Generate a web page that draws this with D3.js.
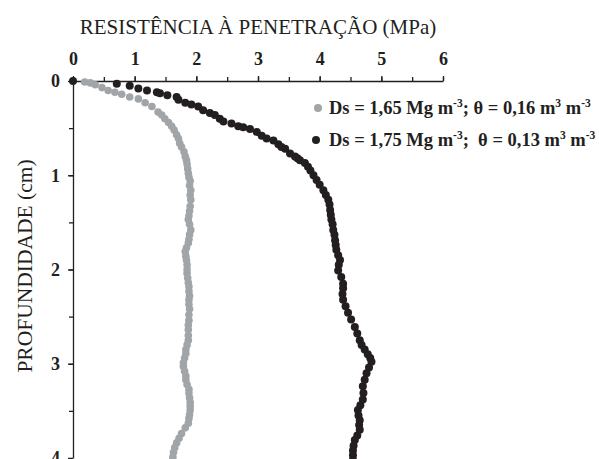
<!DOCTYPE html>
<html><head><meta charset="utf-8">
<script src="https://cdn.jsdelivr.net/npm/d3@7"></script>
<style>
html,body{margin:0;padding:0;background:#fff;}
svg{display:block;font-family:"Liberation Serif","Times New Roman",serif;}
</style></head>
<body><svg id="c" width="599" height="459"></svg>
<script>
// ---- data (resistance MPa, depth cm) ----
const xTicks = [0,1,2,3,4,5,6];
const yTicks = [0,1,2,3,4];
const grayX = [0.19,0.28,0.36,0.47,0.57,0.68,0.79,0.92,1.06,1.17,1.28,1.38,1.44,1.49,1.55,1.60,1.64,1.68,1.71,1.73,1.76,1.80,1.82,1.84,1.85,1.86,1.87,1.88,1.90,1.89,1.91,1.90,1.91,1.90,1.89,1.88,1.87,1.89,1.91,1.89,1.88,1.87,1.84,1.82,1.83,1.84,1.85,1.85,1.85,1.86,1.87,1.88,1.88,1.89,1.88,1.88,1.89,1.88,1.88,1.87,1.87,1.87,1.87,1.85,1.83,1.83,1.81,1.79,1.79,1.81,1.83,1.83,1.85,1.88,1.88,1.89,1.90,1.90,1.90,1.89,1.88,1.87,1.82,1.76,1.72,1.68,1.65,1.63,1.62,1.61];
const grayD = [0.01,0.02,0.04,0.07,0.10,0.12,0.14,0.17,0.19,0.23,0.27,0.33,0.36,0.40,0.44,0.48,0.52,0.57,0.61,0.66,0.70,0.75,0.80,0.84,0.88,0.93,0.98,1.02,1.06,1.11,1.16,1.21,1.26,1.33,1.38,1.43,1.47,1.52,1.58,1.63,1.68,1.72,1.77,1.81,1.86,1.90,1.95,2.00,2.04,2.09,2.14,2.18,2.23,2.28,2.32,2.37,2.42,2.48,2.54,2.59,2.64,2.70,2.75,2.80,2.85,2.89,2.94,2.99,3.03,3.08,3.13,3.17,3.22,3.27,3.31,3.36,3.41,3.45,3.49,3.54,3.58,3.63,3.68,3.74,3.79,3.84,3.89,3.94,3.99,4.03];
const blackX = [0,0.71,0.92,1.06,1.20,1.36,1.41,1.53,1.68,1.71,1.82,1.92,2.03,2.11,2.22,2.30,2.38,2.44,2.57,2.68,2.76,2.87,2.98,3.06,3.14,3.25,3.33,3.38,3.44,3.52,3.60,3.64,3.68,3.76,3.81,3.85,3.90,3.95,4.00,4.06,4.10,4.14,4.16,4.17,4.18,4.19,4.21,4.22,4.24,4.25,4.26,4.27,4.30,4.33,4.31,4.30,4.35,4.38,4.38,4.37,4.38,4.42,4.46,4.51,4.57,4.61,4.65,4.68,4.73,4.78,4.82,4.84,4.80,4.76,4.73,4.70,4.71,4.70,4.66,4.62,4.63,4.65,4.64,4.65,4.61,4.57,4.55,4.54,4.54,4.54];
const blackD = [0,0.03,0.05,0.08,0.10,0.12,0.13,0.15,0.17,0.20,0.23,0.25,0.27,0.31,0.34,0.36,0.40,0.43,0.45,0.48,0.49,0.51,0.54,0.58,0.61,0.63,0.67,0.70,0.72,0.77,0.80,0.82,0.84,0.87,0.91,0.95,1.00,1.05,1.10,1.16,1.21,1.26,1.31,1.37,1.42,1.47,1.52,1.58,1.63,1.69,1.74,1.79,1.85,1.90,1.95,2.01,2.08,2.15,2.20,2.26,2.32,2.39,2.46,2.53,2.61,2.68,2.75,2.80,2.85,2.90,2.94,2.98,3.04,3.10,3.17,3.24,3.31,3.38,3.44,3.49,3.55,3.60,3.65,3.70,3.76,3.81,3.87,3.92,3.97,4.02];
const grayColor = "#a2a5a8", blackColor = "#231f20";

const svg = d3.select("#c");
const x = d3.scaleLinear().domain([0,6]).range([73,443]);
const y = d3.scaleLinear().domain([0,4]).range([81,458]);

// titles
svg.append("text").attr("x",258).attr("y",34).attr("text-anchor","middle")
  .attr("font-size",21).attr("fill","#231f20").text("RESISTÊNCIA À PENETRAÇÃO (MPa)");
svg.append("text").attr("transform","translate(32,266) rotate(-90)").attr("text-anchor","middle")
  .attr("font-size",21.5).attr("fill","#231f20").text("PROFUNDIDADE (cm)");

function styleAxis(g){
  g.selectAll("path,line").attr("stroke","#231f20").attr("stroke-width",1.3);
  g.selectAll("text").attr("font-family","Liberation Serif").attr("font-weight","bold").attr("font-size",18).attr("fill","#231f20");
}
// top axis
const gx = svg.append("g").attr("transform","translate(0,81)");
gx.call(d3.axisTop(x).tickValues(d3.range(0,6.01,0.5)).tickSize(4).tickSizeOuter(0).tickFormat(""));
const gx2 = svg.append("g").attr("transform","translate(0,81)");
gx2.call(d3.axisTop(x).tickValues(xTicks).tickSize(5).tickSizeOuter(0).tickPadding(11).tickFormat(d3.format("d")));
gx2.select(".domain").remove();
styleAxis(gx); styleAxis(gx2);

// left axis
const gy = svg.append("g").attr("transform","translate(73,0)");
gy.call(d3.axisLeft(y).tickValues(d3.range(0,4.01,0.5)).tickSize(4).tickSizeOuter(0).tickFormat(""));
const gy2 = svg.append("g").attr("transform","translate(73,0)");
gy2.call(d3.axisLeft(y).tickValues(yTicks).tickSize(5).tickSizeOuter(0).tickPadding(8).tickFormat(d3.format("d")));
gy2.select(".domain").remove();
styleAxis(gy); styleAxis(gy2);

// series
svg.append("g").selectAll("circle").data(d3.zip(grayX,grayD)).join("circle")
  .attr("cx",d=>x(d[0])).attr("cy",d=>y(d[1])).attr("r",3.8).attr("fill",grayColor);
svg.append("g").selectAll("circle").data(d3.zip(blackX,blackD)).join("circle")
  .attr("cx",d=>x(d[0])).attr("cy",d=>y(d[1])).attr("r",4).attr("fill",blackColor);

// legend
const legendLabels = [
  [["Ds = 1,65 Mg m",""],["-3","s"],["; θ = 0,16 m",""],["3","s"],[" m",""],["-3","s"]],
  [["Ds = 1,75 Mg m",""],["-3","s"],[";  θ = 0,13 m",""],["3","s"],[" m",""],["-3","s"]]
];
const legendColors = [grayColor, blackColor];
const legendPos = [{cx:318, cy:108}, {cx:316, cy:140}];
legendLabels.forEach((parts,k)=>{
  const p0 = legendPos[k];
  svg.append("circle").attr("cx",p0.cx).attr("cy",p0.cy).attr("r",4).attr("fill",legendColors[k]);
  const t = svg.append("text").attr("x",329).attr("y",p0.cy+6).attr("font-weight","bold")
    .attr("font-size",18.5).attr("fill","#231f20").style("white-space","pre");
  parts.forEach((p,i)=>{
    const ts = t.append("tspan").text(p[0]);
    const prev = i>0 ? parts[i-1] : null;
    if(p[1]==="s") ts.attr("font-size",11.5).attr("dy",-7);
    else if(prev && prev[1]==="s") ts.attr("dy",7);
  });
});
</script></body></html>
